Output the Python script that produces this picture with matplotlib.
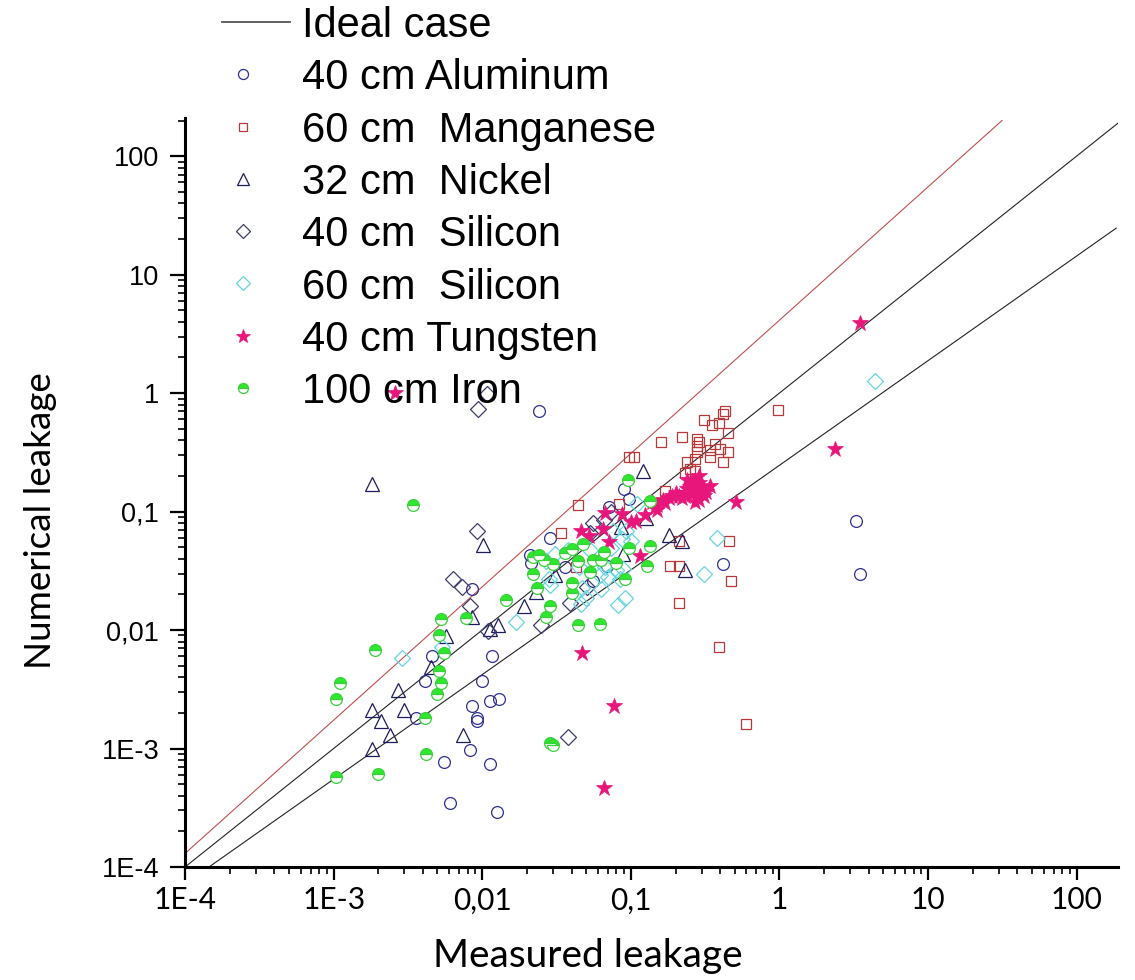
import matplotlib
matplotlib.use("Agg")
import matplotlib.pyplot as plt

plt.rcParams['font.family'] = ['Liberation Sans', 'DejaVu Sans']

# reference lines
ideal_x = [1e-4, 200]
ideal_y = [1e-4, 200]
upper_x = [1e-4, 31.5]
upper_y = [1.3e-4, 200]
lower_x = [1.45e-4, 185]
lower_y = [1e-4, 24.7]

# 40 cm Aluminum
al_x = [0.0046, 0.0041, 0.0099, 0.0086, 0.0113, 0.0129, 0.0036, 0.0092, 0.0092, 0.0083,
        0.0055, 0.0113, 0.0061, 0.0125, 0.0116, 0.0085, 0.024, 0.090, 0.097, 0.071,
        0.0285, 0.021, 0.0213, 0.056, 0.069, 0.42, 3.3, 3.5, 0.036]
al_y = [0.0060, 0.0037, 0.0037, 0.0023, 0.0025, 0.0026, 0.0018, 0.0018, 0.0017, 0.00097,
        0.00077, 0.00074, 0.00035, 0.00029, 0.0060, 0.022, 0.70, 0.154, 0.127, 0.110,
        0.060, 0.043, 0.037, 0.026, 0.035, 0.036, 0.083, 0.030, 0.034]

# 60 cm Manganese
mn_x = [0.098, 0.105, 0.16, 0.22, 0.31, 0.35, 0.39, 0.42, 0.43, 0.98,
        0.45, 0.28, 0.29, 0.28, 0.37, 0.34, 0.40, 0.45, 0.28, 0.27,
        0.24, 0.34, 0.42, 0.25, 0.23, 0.27, 0.17, 0.083, 0.044, 0.034,
        0.21, 0.185, 0.21, 0.46, 0.47, 0.21, 0.39, 0.60, 0.043]
mn_y = [0.29, 0.29, 0.39, 0.43, 0.59, 0.54, 0.56, 0.67, 0.70, 0.72,
        0.46, 0.41, 0.39, 0.36, 0.37, 0.33, 0.34, 0.32, 0.32, 0.28,
        0.26, 0.29, 0.26, 0.23, 0.21, 0.22, 0.15, 0.115, 0.114, 0.066,
        0.056, 0.035, 0.035, 0.057, 0.026, 0.017, 0.0072, 0.0016, 0.034]

# 32 cm Nickel
ni_x = [0.0018, 0.0102, 0.12, 0.18, 0.22, 0.23, 0.127, 0.086, 0.088, 0.031,
        0.023, 0.019, 0.0128, 0.0113, 0.0057, 0.0085, 0.0045, 0.0027, 0.0018, 0.0030,
        0.0021, 0.0024, 0.0018, 0.0074]
ni_y = [0.17, 0.052, 0.22, 0.063, 0.057, 0.032, 0.089, 0.074, 0.044, 0.029,
        0.021, 0.016, 0.011, 0.0103, 0.0089, 0.013, 0.0049, 0.0031, 0.0021, 0.0021,
        0.0017, 0.0013, 0.0010, 0.0013]

# 40 cm Silicon
si40_x = [0.0107, 0.0094, 0.0092, 0.0064, 0.0073, 0.0083, 0.011, 0.038, 0.025, 0.039,
          0.051, 0.056, 0.066, 0.074, 0.053]
si40_y = [0.99, 0.74, 0.068, 0.027, 0.023, 0.016, 0.0099, 0.00124, 0.011, 0.017,
          0.023, 0.080, 0.085, 0.100, 0.066]

# 60 cm Silicon
si60_x = [4.4, 0.38, 0.31, 0.11, 0.0029, 0.0054, 0.093, 0.087, 0.10, 0.076,
          0.074, 0.053, 0.038, 0.031, 0.027, 0.045, 0.067, 0.080, 0.089, 0.062,
          0.070, 0.084, 0.0285, 0.047, 0.063, 0.082, 0.091, 0.046, 0.050, 0.017, 0.028]
si60_y = [1.26, 0.060, 0.030, 0.117, 0.0058, 0.0072, 0.068, 0.059, 0.057, 0.068,
          0.049, 0.047, 0.047, 0.044, 0.038, 0.034, 0.034, 0.032, 0.033, 0.029,
          0.028, 0.027, 0.024, 0.0225, 0.022, 0.0164, 0.0185, 0.0166, 0.0187, 0.0118, 0.027]

# 40 cm Tungsten
w_x = [3.5, 2.35, 0.51, 0.047, 0.077, 0.066, 0.0026, 0.32, 0.29, 0.25,
       0.23, 0.28, 0.26, 0.24, 0.20, 0.18, 0.165, 0.15, 0.15, 0.124,
       0.108, 0.087, 0.067, 0.27, 0.29, 0.22, 0.138, 0.046, 0.052, 0.065,
       0.071, 0.115, 0.145, 0.10, 0.34, 0.30, 0.25, 0.17, 0.26, 0.28,
       0.24, 0.27, 0.30, 0.23, 0.21, 0.19, 0.29, 0.31, 0.27]
w_y = [3.9, 0.335, 0.120, 0.0064, 0.0023, 0.00046, 1.0, 0.147, 0.173, 0.162,
       0.143, 0.133, 0.18, 0.185, 0.143, 0.129, 0.125, 0.114, 0.103, 0.093,
       0.084, 0.095, 0.097, 0.152, 0.20, 0.129, 0.121, 0.068, 0.062, 0.071,
       0.055, 0.042, 0.11, 0.082, 0.164, 0.15, 0.152, 0.118, 0.14, 0.16,
       0.155, 0.17, 0.16, 0.135, 0.135, 0.135, 0.125, 0.135, 0.12]

# 100 cm Iron
fe_x = [0.0034, 0.0019, 0.0053, 0.0051, 0.0055, 0.0078, 0.0051, 0.0053, 0.0050, 0.0011,
        0.00104, 0.0144, 0.0041, 0.0042, 0.00103, 0.0020, 0.0285, 0.030, 0.096, 0.135,
        0.022, 0.024, 0.026, 0.030, 0.036, 0.040, 0.048, 0.044, 0.066, 0.056,
        0.063, 0.079, 0.098, 0.134, 0.128, 0.022, 0.053, 0.092, 0.0235, 0.040,
        0.0405, 0.0285, 0.027, 0.044, 0.0625]
fe_y = [0.113, 0.0068, 0.0123, 0.0091, 0.0064, 0.0127, 0.0045, 0.0036, 0.0029, 0.0036,
        0.0026, 0.018, 0.0018, 0.0009, 0.00057, 0.00061, 0.00112, 0.00107, 0.183, 0.123,
        0.041, 0.043, 0.039, 0.036, 0.045, 0.048, 0.053, 0.038, 0.046, 0.039,
        0.039, 0.037, 0.049, 0.051, 0.035, 0.030, 0.031, 0.027, 0.0225, 0.025,
        0.0205, 0.016, 0.0129, 0.0111, 0.0112]

series = [
    ("40 cm Aluminum", al_x, al_y, dict(marker='o', ms=8.5, mfc='none', mec='#2f2f8f', mew=0.9)),
    ("60 cm  Manganese", mn_x, mn_y, dict(marker='s', ms=7.5, mfc='none', mec='#b8383a', mew=0.9)),
    ("32 cm  Nickel", ni_x, ni_y, dict(marker='^', ms=10, mfc='none', mec='#1c1c5c', mew=0.9)),
    ("40 cm  Silicon", si40_x, si40_y, dict(marker='D', ms=8.5, mfc='none', mec='#3c3c72', mew=0.9)),
    ("60 cm  Silicon", si60_x, si60_y, dict(marker='D', ms=8.5, mfc='none', mec='#66d4de', mew=0.9)),
    ("40 cm Tungsten", w_x, w_y, dict(marker='*', ms=12, mfc='#e8157b', mec='#e8157b', mew=0.5)),
    ("100 cm Iron", fe_x, fe_y, dict(marker='o', ms=8.5, fillstyle='top', mfc='#2ee82e',
                                     mfcalt='white', mec='#3ccf3c', mew=0.9)),
]

fig = plt.figure(figsize=(11.35, 9.8), dpi=100)
ax = fig.add_axes([0.163, 0.1153, 0.822, 0.7643])

ax.plot(ideal_x, ideal_y, color='#222222', lw=0.8)
ax.plot(upper_x, upper_y, color='#c0504d', lw=0.8)
ax.plot(lower_x, lower_y, color='#222222', lw=0.8)

for name, xs, ys, st in series:
    ax.plot(xs, ys, linestyle='none', **st)

ax.set_xscale('log')
ax.set_yscale('log')
ax.set_xlim(1e-4, 190)
ax.set_ylim(1e-4, 210)

xt = [1e-4, 1e-3, 1e-2, 1e-1, 1, 10, 100]
xt_labels = ['1E-4', '1E-3', '0,01', '0,1', '1', '10', '100']
ax.set_xticks(xt)
ax.set_xticklabels(xt_labels, fontsize=21.5, family=['Lato', 'DejaVu Sans'])
ax.set_yticks(xt)
ax.set_yticklabels(xt_labels, fontsize=19.5)

for s in ['top', 'right']:
    ax.spines[s].set_visible(False)
for s in ['left', 'bottom']:
    ax.spines[s].set_linewidth(2.2)

ax.tick_params(axis='both', which='major', length=9, width=1.6, direction='out')
ax.tick_params(axis='both', which='minor', length=5, width=1.2, direction='out')
ax.tick_params(axis='y', which='major', length=10.5)
ax.tick_params(axis='x', which='major', pad=5)
ax.tick_params(axis='y', which='major', pad=8)

ax.set_xlabel('Measured leakage', fontsize=28, family=['Lato', 'DejaVu Sans'])
ax.set_ylabel('Numerical leakage', fontsize=26.5, family=['Lato', 'DejaVu Sans'])
ax.xaxis.set_label_coords(0.432, -0.095)
ax.yaxis.set_label_coords(-0.137, 0.463)

# legend drawn in pixel space above the plot
leg = fig.add_axes([0, 0, 1, 1], zorder=5)
leg.set_xlim(0, 1135)
leg.set_ylim(980, 0)
leg.axis('off')
leg.patch.set_alpha(0)

row0 = 22
step = 52.3
leg.plot([222, 290], [row0, row0], color='#555555', lw=1.3)
leg.text(302, row0 + 15, 'Ideal case', fontsize=30, va='baseline')
for i, (name, xs, ys, st) in enumerate(series):
    yy = row0 + step * (i + 1)
    leg.plot([243], [yy], linestyle='none', ms=st['ms'] * 0.85,
             **{k: v for k, v in st.items() if k != 'ms'})
    leg.text(302, yy + 15, name, fontsize=30, va='baseline')

fig.savefig('out.png', dpi=100)
